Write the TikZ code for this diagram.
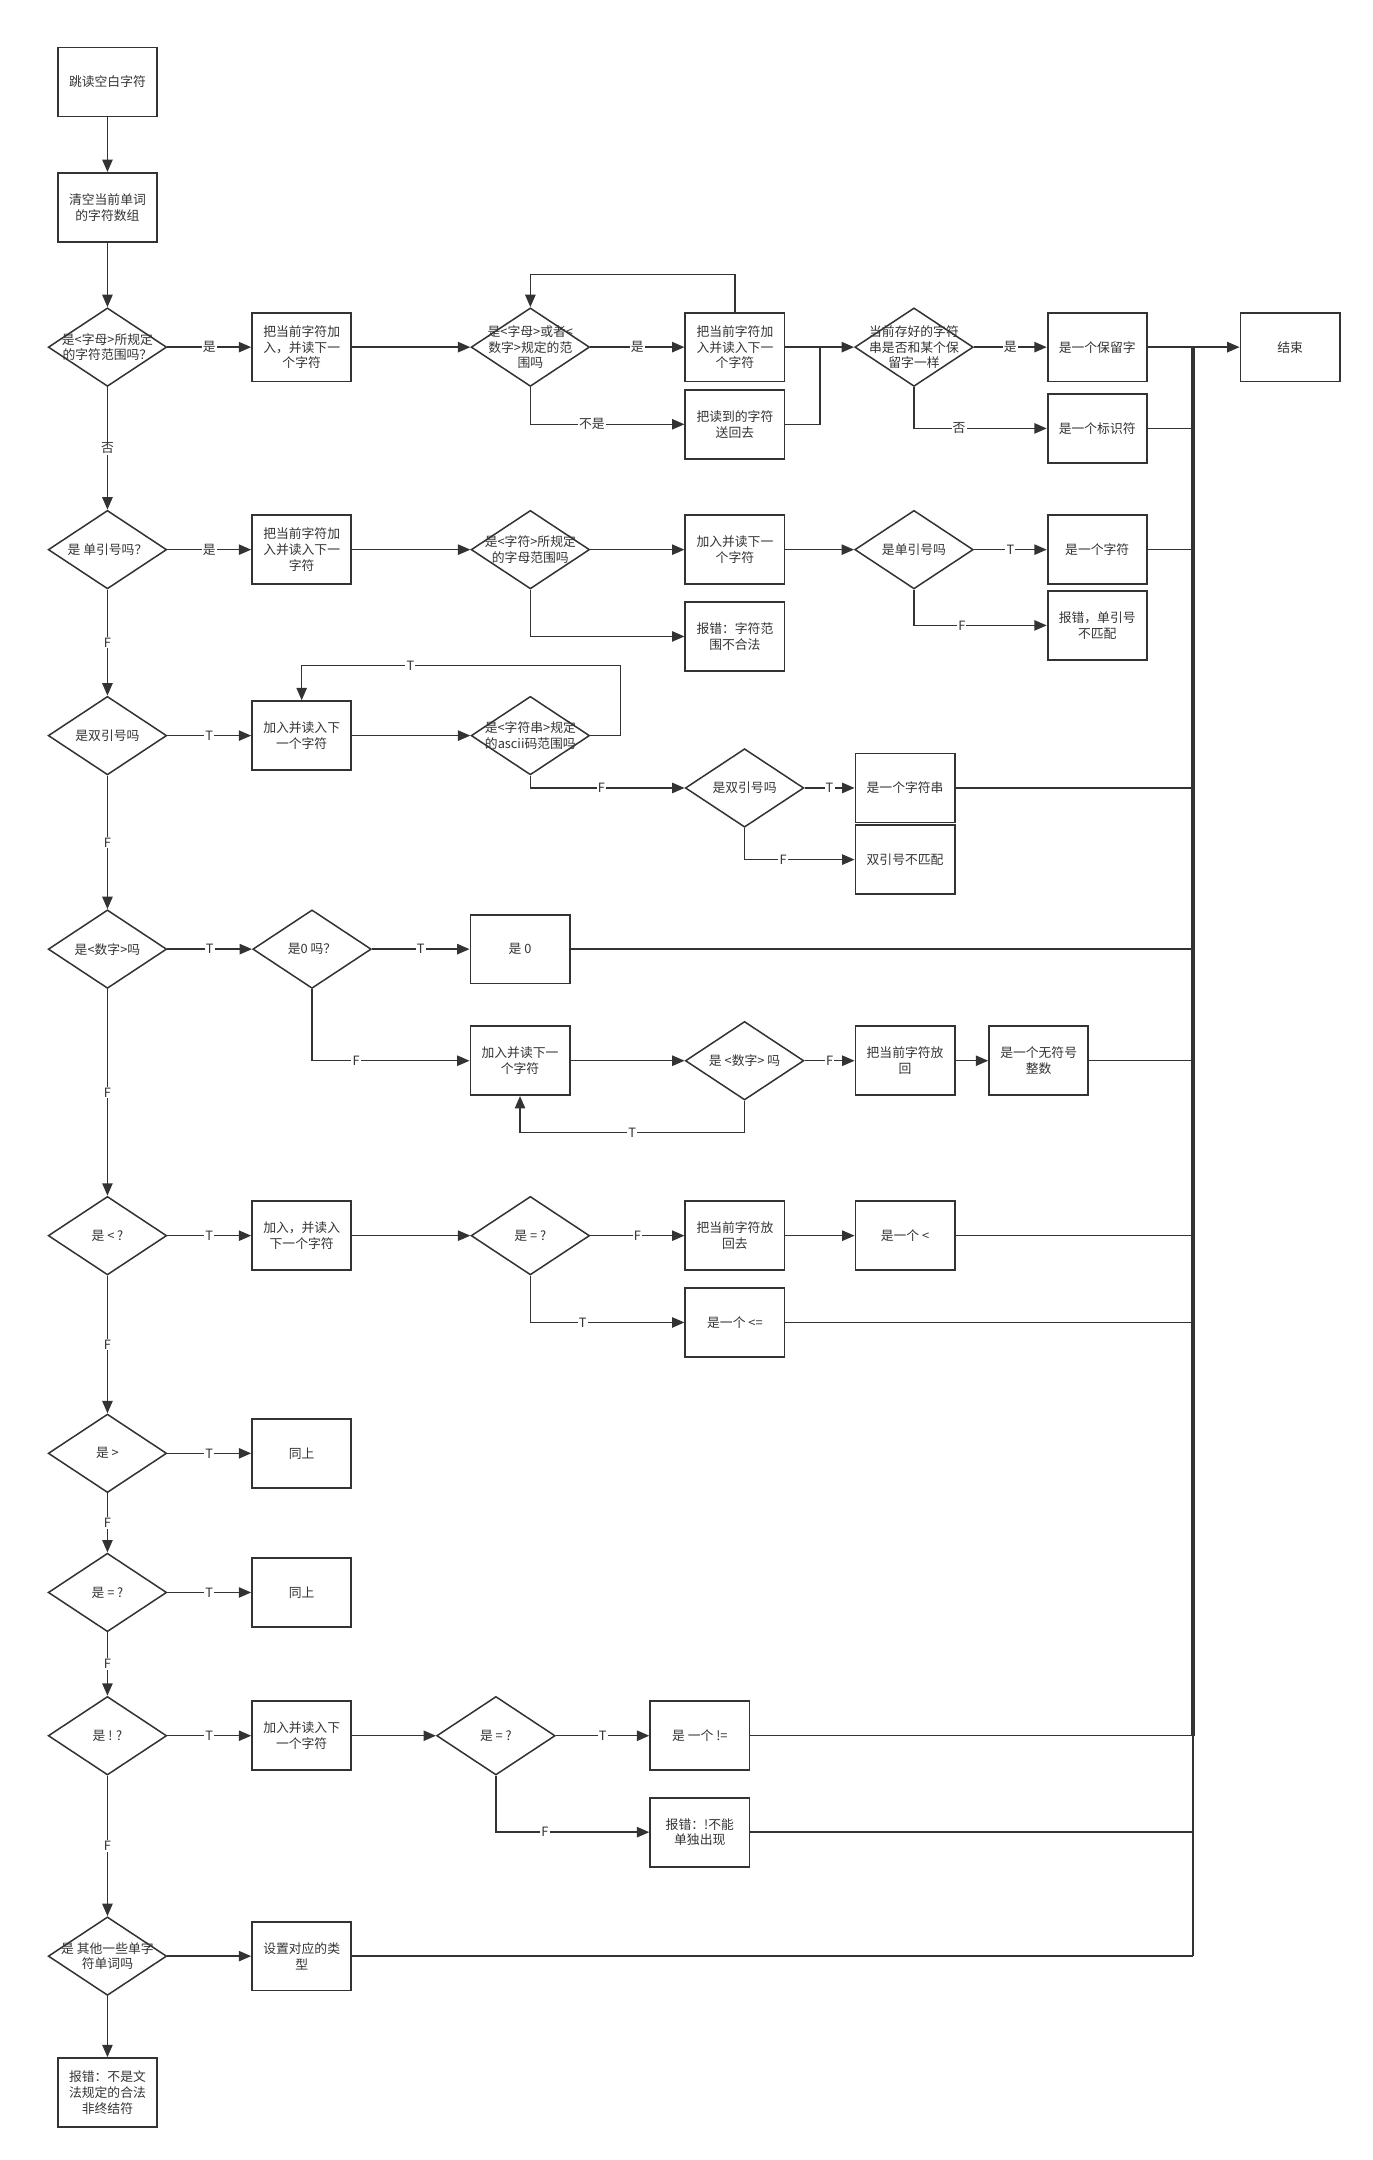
\documentclass[tikz,border=0pt]{standalone}
\usepackage{fontspec}
\setmainfont{Noto Sans CJK SC}
\usepackage{xcolor}
\usetikzlibrary{arrows.meta}
\usetikzlibrary{shapes.geometric}
\definecolor{linegray}{HTML}{333333}

\tikzset{
  stepbox/.style={draw=linegray, line width=1.3pt, minimum width=72pt, minimum height=50pt, align=center, inner sep=1pt, text=linegray},
  decision/.style={diamond, draw=linegray, line width=1.1pt, minimum width=86pt, minimum height=57pt, inner sep=0pt},
  flow/.style={draw=linegray, line width=1.1pt, -{Triangle[length=9pt,width=7.5pt]}},
  link/.style={draw=linegray, line width=1.1pt},
  elabel/.style={fill=white, inner sep=0.8pt, text=linegray},
  every label/.style={align=center, text=linegray, inner sep=0pt}
}

\begin{document}
\begin{tikzpicture}[x=1pt, y=-1pt, font=\fontsize{9.3pt}{11.5pt}\selectfont]
	 \useasboundingbox (0,0) rectangle (996,1568);
	 %
	 \node[stepbox] (skip) at (78,59.5) {跳读空白字符};
	 %
	 \node[stepbox] (clear) at (78,150.5) {清空当前单词\\的字符数组};
	 %
	 %Bezeichner
	 \node[decision, label={center:是<字母>所规定\\的字符范围吗？}] (isletter) at (78,252) {};
	 \node[stepbox] (addid) at (219,252) {把当前字符加\\入，并读下一\\个字符};
	 \node[decision, label={center:是<字母>或者<\\数字>规定的范\\围吗}] (isalnum) at (385,252) {};
	 \node[stepbox] (readid) at (533.5,252) {把当前字符加\\入并读入下一\\个字符};
	 \node[stepbox] (backid) at (533.5,308) {把读到的字符\\送回去};
	 \node[decision, label={center:当前存好的字符\\串是否和某个保\\留字一样}] (isreserved) at (663.5,252) {};
	 \node[stepbox] (reserved) at (796.5,252) {是一个保留字};
	 \node[stepbox] (ident) at (796.5,311) {是一个标识符};
	 \node[stepbox] (finish) at (936.5,252) {结束};
	 %
	 %Zeichen
	 \node[decision, label={center:是 单引号吗？}] (isquote) at (78,399) {};
	 \node[stepbox] (addchar) at (219,399) {把当前字符加\\入并读入下一\\字符};
	 \node[decision, label={center:是<字符>所规定\\的字母范围吗}] (charrange) at (385,399) {};
	 \node[stepbox] (readchar) at (533.5,399) {加入并读下一\\个字符};
	 \node[stepbox] (charerr) at (533.5,462) {报错：字符范\\围不合法};
	 \node[decision, label={center:是单引号吗}] (isquoteend) at (663.5,399) {};
	 \node[stepbox] (ischar) at (796.5,399) {是一个字符};
	 \node[stepbox] (quoteerr) at (796.5,454) {报错，单引号\\不匹配};
	 %
	 %Zeichenkette
	 \node[decision, label={center:是双引号吗}] (isdquote) at (78,534) {};
	 \node[stepbox] (addstr) at (219,534) {加入并读入下\\一个字符};
	 \node[decision, label={center:是<字符串>规定\\的ascii码范围吗}] (strrange) at (385,534) {};
	 \node[decision, label={center:是双引号吗}] (isdquoteend) at (540.5,572) {};
	 \node[stepbox] (isstr) at (657,572) {是一个字符串};
	 \node[stepbox] (dquoteerr) at (657,624) {双引号不匹配};
	 %
	 %Zahl
	 \node[decision, label={center:是<数字>吗}] (isdigit) at (78,689) {};
	 \node[decision, label={center:是0 吗？}] (iszero) at (226.5,689) {};
	 \node[stepbox] (zero) at (377.5,689) {是 0};
	 \node[stepbox] (adddigit) at (377.5,770) {加入并读下一\\个字符};
	 \node[decision, label={center:是 <数字> 吗}] (isdigitnext) at (540.5,770) {};
	 \node[stepbox] (backdigit) at (657,770) {把当前字符放\\回};
	 \node[stepbox] (uint) at (754,770) {是一个无符号\\整数};
	 %
	 %Kleiner
	 \node[decision, label={center:是 < ?}] (isless) at (78,897) {};
	 \node[stepbox] (addless) at (219,897) {加入，并读入\\下一个字符};
	 \node[decision, label={center:是 = ?}] (islesseq) at (385,897) {};
	 \node[stepbox] (backless) at (533.5,897) {把当前字符放\\回去};
	 \node[stepbox] (less) at (657,897) {是一个 <};
	 \node[stepbox] (lesseq) at (533.5,960) {是一个 <=};
	 %
	 %Groesser, Gleich
	 \node[decision, label={center:是 >}] (isgreater) at (78,1055) {};
	 \node[stepbox] (samegt) at (219,1055) {同上};
	 \node[decision, label={center:是 = ?}] (isassign) at (78,1156) {};
	 \node[stepbox] (sameeq) at (219,1156) {同上};
	 %
	 %Ungleich
	 \node[decision, label={center:是 ! ?}] (isnot) at (78,1260) {};
	 \node[stepbox] (addnot) at (219,1260) {加入并读入下\\一个字符};
	 \node[decision, label={center:是 = ?}] (isnoteq) at (360,1260) {};
	 \node[stepbox] (noteq) at (508,1260) {是 一个 !=};
	 \node[stepbox] (noterr) at (508,1330) {报错：!不能\\单独出现};
	 %
	 %Sonstige
	 \node[decision, label={center:是 其他一些单字\\符单词吗}] (isother) at (78,1420) {};
	 \node[stepbox] (settype) at (219,1420) {设置对应的类\\型};
	 \node[stepbox] (symerr) at (78,1519) {报错：不是文\\法规定的合法\\非终结符};
	 %
	 \coordinate (bus) at (866,252);
	 %
	 %Hauptstrang
	 \draw[flow] (skip) -- (clear);
	 \draw[flow] (clear) -- (isletter);
	 \draw[flow] (isletter) -- node[elabel]{否} (isquote);
	 \draw[flow] (isquote) -- node[elabel]{F} (isdquote);
	 \draw[flow] (isdquote) -- node[elabel]{F} (isdigit);
	 \draw[flow] (isdigit) -- node[elabel]{F} (isless);
	 \draw[flow] (isless) -- node[elabel]{F} (isgreater);
	 \draw[flow] (isgreater) -- node[elabel]{F} (isassign);
	 \draw[flow] (isassign) -- node[elabel]{F} (isnot);
	 \draw[flow] (isnot) -- node[elabel]{F} (isother);
	 \draw[flow] (isother) -- (symerr);
	 %
	 %Bezeichner
	 \draw[flow] (isletter) -- node[elabel]{是} (addid);
	 \draw[flow] (addid) -- (isalnum);
	 \draw[flow] (isalnum) -- node[elabel]{是} (readid);
	 \draw[flow] (isalnum.south) |- node[elabel, pos=0.7]{不是} (backid.west);
	 \draw[flow] (readid.north) -- ++(0,-27) -| (isalnum.north);
	 \draw[flow] (readid) -- (isreserved);
	 \draw[link] (backid.east) -- ++(25,0) |- (readid.east);
	 \draw[flow] (isreserved) -- node[elabel]{是} (reserved);
	 \draw[flow] (isreserved.south) |- node[elabel, pos=0.67]{否} (ident.west);
	 \draw[flow] (reserved) -- (finish);
	 %
	 %Zeichen
	 \draw[flow] (isquote) -- node[elabel]{是} (addchar);
	 \draw[flow] (addchar) -- (charrange);
	 \draw[flow] (charrange) -- (readchar);
	 \draw[flow] (charrange.south) |- (charerr.west);
	 \draw[flow] (readchar) -- (isquoteend);
	 \draw[flow] (isquoteend) -- node[elabel]{T} (ischar);
	 \draw[flow] (isquoteend.south) |- node[elabel, pos=0.68]{F} (quoteerr.west);
	 %
	 %Zeichenkette
	 \draw[flow] (isdquote) -- node[elabel]{T} (addstr);
	 \draw[flow] (addstr) -- (strrange);
	 \draw[flow] (strrange.east) -- ++(22,0) |- ++(-100,-51) -| node[elabel, pos=0.2]{T} (addstr.north);
	 \draw[flow] (strrange.south) |- node[elabel, pos=0.73]{F} (isdquoteend.west);
	 \draw[flow] (isdquoteend) -- node[elabel]{T} (isstr);
	 \draw[flow] (isdquoteend.south) |- node[elabel, pos=0.675]{F} (dquoteerr.west);
	 %
	 %Zahl
	 \draw[flow] (isdigit) -- node[elabel]{T} (iszero);
	 \draw[flow] (iszero) -- node[elabel]{T} (zero);
	 \draw[flow] (iszero.south) |- node[elabel, pos=0.64]{F} (adddigit.west);
	 \draw[flow] (adddigit) -- (isdigitnext);
	 \draw[flow] (isdigitnext) -- node[elabel]{F} (backdigit);
	 \draw[flow] (isdigitnext.south) -- ++(0,23) -| node[elabel, pos=0.25]{T} (adddigit.south);
	 \draw[flow] (backdigit) -- (uint);
	 %
	 %Kleiner
	 \draw[flow] (isless) -- node[elabel]{T} (addless);
	 \draw[flow] (addless) -- (islesseq);
	 \draw[flow] (islesseq) -- node[elabel]{F} (backless);
	 \draw[flow] (backless) -- (less);
	 \draw[flow] (islesseq.south) |- node[elabel, pos=0.67]{T} (lesseq.west);
	 %
	 %Groesser, Gleich
	 \draw[flow] (isgreater) -- node[elabel]{T} (samegt);
	 \draw[flow] (isassign) -- node[elabel]{T} (sameeq);
	 %
	 %Ungleich
	 \draw[flow] (isnot) -- node[elabel]{T} (addnot);
	 \draw[flow] (addnot) -- (isnoteq);
	 \draw[flow] (isnoteq) -- node[elabel]{T} (noteq);
	 \draw[flow] (isnoteq.south) |- node[elabel, pos=0.66]{F} (noterr.west);
	 %
	 %Sonstige
	 \draw[flow] (isother) -- (settype);
	 %
	 %Sammelleitung
	 \draw[linegray, line width=2.4pt] (bus) -- (bus |- noteq.east);
	 \draw[linegray, line width=1.7pt] (bus |- noteq.east) -- (bus |- noterr.east);
	 \draw[link] (bus |- noterr.east) -- (bus |- settype.east);
	 \draw[link] (ident.east) -- (ident.east -| bus);
	 \draw[link] (ischar.east) -- (ischar.east -| bus);
	 \draw[link] (isstr.east) -- (isstr.east -| bus);
	 \draw[link] (zero.east) -- (zero.east -| bus);
	 \draw[link] (uint.east) -- (uint.east -| bus);
	 \draw[link] (less.east) -- (less.east -| bus);
	 \draw[link] (lesseq.east) -- (lesseq.east -| bus);
	 \draw[link] (noteq.east) -- (noteq.east -| bus);
	 \draw[link] (noterr.east) -- (noterr.east -| bus);
	 \draw[link] (settype.east) -- (settype.east -| bus);
\end{tikzpicture}
\end{document}
